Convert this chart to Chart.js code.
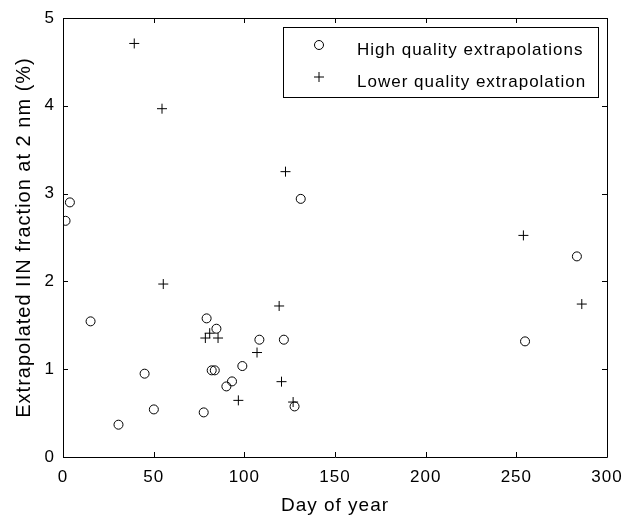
<!DOCTYPE html>
<html>
<head>
<meta charset="utf-8">
<script src="https://cdn.jsdelivr.net/npm/chart.js@4.4.1/dist/chart.umd.min.js"></script>
<style>
html,body{margin:0;padding:0;background:#fff;}
#wrap{width:624px;height:517px;position:relative;}
</style>
</head>
<body>
<div id="wrap"><canvas id="c" width="624" height="517"></canvas></div>
<script>
// ---- data ----
const hqDays = [1.4, 3.8, 15.2, 30.6, 45, 50.1, 77.6, 79.2, 82, 83.7, 84.6, 90.1, 93.2, 98.9, 108.3, 121.8, 127.7, 131.1, 254.8, 283.4];
const hqVals = [2.69, 2.90, 1.545, 0.368, 0.949, 0.542, 0.508, 1.579, 0.987, 0.987, 1.461, 0.804, 0.861, 1.036, 1.336, 1.336, 0.576, 2.94, 1.317, 2.285];
const lqDays = [39.3, 54.6, 55.3, 78.5, 80.9, 85.5, 96.7, 107, 119.2, 120.5, 126.9, 122.7, 253.9, 286.1];
const lqVals = [4.71, 3.967, 1.97, 1.355, 1.41, 1.355, 0.645, 1.19, 1.72, 0.858, 0.626, 3.25, 2.524, 1.742];
const xTickValues = [0, 50, 100, 150, 200, 250, 300];
const yTickValues = [0, 1, 2, 3, 4, 5];
const seriesNames = ['High quality extrapolations', 'Lower quality extrapolation'];
const xTitle = 'Day of year';
const yTitle = 'Extrapolated IIN fraction at 2 nm (%)';

const FONT = "'Liberation Sans', Arial, sans-serif";
const toPts = (xs, ys) => xs.map((x, i) => ({x: x, y: ys[i]}));

const boxPlugin = {
  id: 'matlabBox',
  beforeDraw(chart) {
    chart.ctx.letterSpacing = '1px';
  },
  afterDraw(chart) {
    const ctx = chart.ctx;
    const a = chart.chartArea;
    const xs = chart.scales.x, ys = chart.scales.y;
    ctx.save();
    ctx.strokeStyle = '#000';
    ctx.lineWidth = 1;
    // axes box
    ctx.beginPath();
    ctx.rect(Math.round(a.left) + 0.5, Math.round(a.top) + 0.5, Math.round(a.right - a.left), Math.round(a.bottom - a.top));
    ctx.stroke();
    // inward ticks
    const tl = 5;
    ctx.beginPath();
    xTickValues.forEach(v => {
      const px = Math.round(xs.getPixelForValue(v)) + 0.5;
      ctx.moveTo(px, a.bottom); ctx.lineTo(px, a.bottom - tl);
      ctx.moveTo(px, a.top); ctx.lineTo(px, a.top + tl);
    });
    yTickValues.forEach(v => {
      const py = Math.round(ys.getPixelForValue(v)) + 0.5;
      ctx.moveTo(a.left, py); ctx.lineTo(a.left + tl, py);
      ctx.moveTo(a.right, py); ctx.lineTo(a.right - tl, py);
    });
    ctx.stroke();
    // legend
    const lx = 283.5, ly = 27.5, lw = 315, lh = 70;
    ctx.fillStyle = '#fff';
    ctx.fillRect(lx, ly, lw, lh);
    ctx.strokeRect(lx, ly, lw, lh);
    ctx.font = '17px ' + FONT;
    ctx.letterSpacing = '1px';
    ctx.textBaseline = 'middle';
    ctx.textAlign = 'left';
    const rows = [45, 77];
    chart.data.datasets.forEach((ds, i) => {
      ctx.fillStyle = 'rgba(0,0,0,0)';
      Chart.helpers.drawPoint(ctx, {
        pointStyle: ds.pointStyle, radius: ds.pointRadius, borderWidth: 1, rotation: 0
      }, 319, rows[i]);
      ctx.fillStyle = '#000';
      ctx.fillText(seriesNames[i], 357, rows[i] + 5);
    });
    ctx.restore();
  }
};

new Chart(document.getElementById('c'), {
  type: 'scatter',
  data: {
    datasets: [
      { label: seriesNames[0], data: toPts(hqDays, hqVals), pointStyle: 'circle', pointRadius: 4.5,
        pointBorderWidth: 1, borderColor: '#000', backgroundColor: 'rgba(0,0,0,0)', pointBackgroundColor: 'rgba(0,0,0,0)', pointBorderColor: '#000', pointHoverRadius: 4.5 },
      { label: seriesNames[1], data: toPts(lqDays, lqVals), pointStyle: 'cross', pointRadius: 5,
        pointBorderWidth: 1, borderColor: '#000', backgroundColor: '#000', pointBorderColor: '#000', pointHoverRadius: 5 }
    ]
  },
  options: {
    responsive: false,
    animation: false,
    events: [],
    layout: { padding: { top: 18, right: 17, left: 0, bottom: 0 } },
    plugins: { legend: { display: false }, tooltip: { enabled: false } },
    scales: {
      x: {
        type: 'linear', min: 0, max: 300,
        afterBuildTicks: s => { s.ticks = xTickValues.map(v => ({value: v})); },
        afterFit: s => { s.height = 60; s.paddingLeft = 0; s.paddingRight = 0; },
        grid: { display: false, drawTicks: false },
        border: { display: false },
        ticks: { color: '#000', font: { family: FONT, size: 17 }, padding: 10, maxRotation: 0 },
        title: { display: true, text: xTitle, color: '#000', font: { family: FONT, size: 19 }, padding: { top: 0, bottom: 0 } }
      },
      y: {
        type: 'linear', min: 0, max: 5,
        afterBuildTicks: s => { s.ticks = yTickValues.map(v => ({value: v})); },
        afterFit: s => { s.width = 63; s.paddingTop = 0; s.paddingBottom = 0; },
        grid: { display: false, drawTicks: false },
        border: { display: false },
        ticks: { color: '#000', font: { family: FONT, size: 17 }, padding: 8 },
        title: { display: true, text: yTitle, color: '#000', font: { family: FONT, size: 20 }, padding: { top: 12, bottom: 0 } }
      }
    }
  },
  plugins: [boxPlugin]
});
</script>
</body>
</html>
